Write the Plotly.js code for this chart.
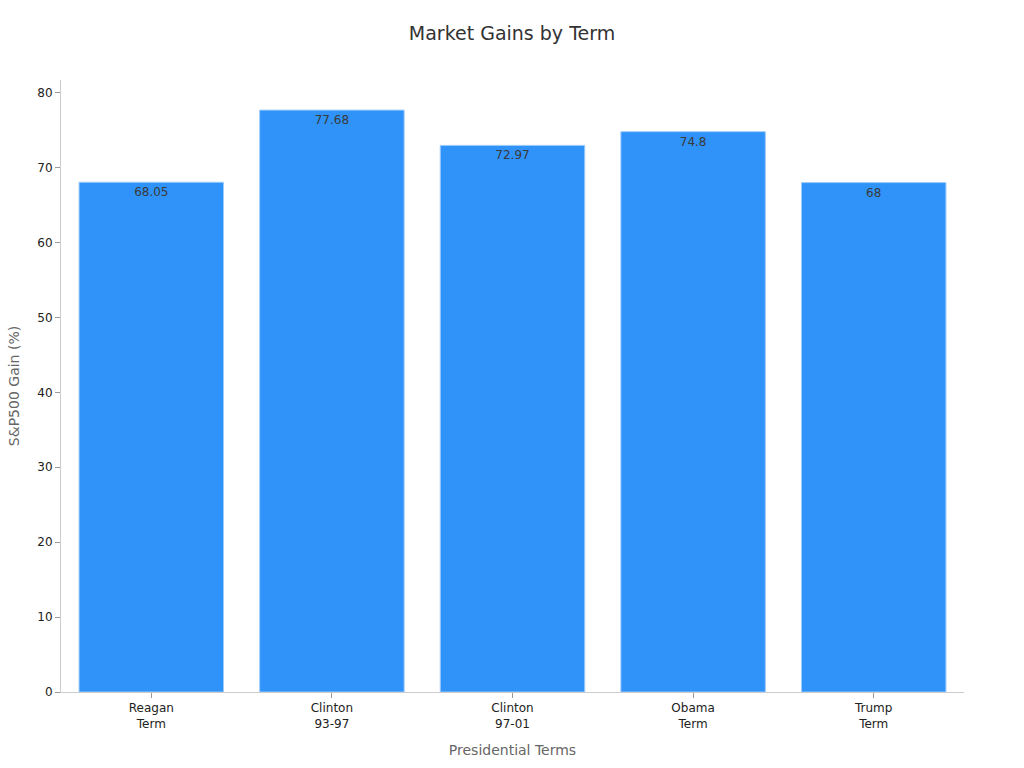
<!DOCTYPE html>
<html>
<head>
<meta charset="utf-8">
<script src="https://cdn.plot.ly/plotly-3.0.1.min.js"></script>
<style>html,body{margin:0;padding:0;background:#fff;}#chart{width:1024px;height:768px;}</style>
</head>
<body>
<div id="chart"></div>
<script>
const categories = ["Reagan<br>Term", "Clinton<br>93-97", "Clinton<br>97-01", "Obama<br>Term", "Trump<br>Term"];
const gains = [68.05, 77.68, 72.97, 74.8, 68];
const yTicks = [0, 10, 20, 30, 40, 50, 60, 70, 80];

const trace = {
  type: 'bar',
  x: categories,
  y: gains,
  text: gains.map(String),
  textposition: 'inside',
  insidetextanchor: 'end',
  textfont: {family: 'DejaVu Sans', size: 12, color: '#3a3a3a'},
  marker: {color: '#2F93F9', line: {color: '#9ccbfb', width: 1}},
  hoverinfo: 'x+y'
};

const layout = {
  width: 1024, height: 768,
  margin: {l: 61, r: 60, t: 80, b: 76},
  paper_bgcolor: '#fff', plot_bgcolor: '#fff',
  font: {family: 'DejaVu Sans', color: '#222', size: 12},
  title: {text: 'Market Gains by Term', x: 0.5, xanchor: 'center', y: 0.957, yanchor: 'middle',
          font: {family: 'DejaVu Sans', size: 19, color: '#333'}},
  bargap: 0.2,
  showlegend: false,
  xaxis: {
    title: {text: 'Presidential Terms', font: {size: 14, color: '#666'}, standoff: 15},
    showline: true, linecolor: '#ccc', linewidth: 1,
    ticks: 'outside', ticklen: 5, tickcolor: '#999',
    showgrid: false, zeroline: false,
    tickfont: {size: 12, color: '#222'}
  },
  yaxis: {
    title: {text: 'S&P500 Gain (%)', font: {size: 14, color: '#666'}, standoff: 14},
    range: [0, 81.7],
    tickvals: yTicks,
    showline: true, linecolor: '#ccc', linewidth: 1,
    ticks: 'outside', ticklen: 5, tickcolor: '#999',
    showgrid: false, zeroline: false,
    tickfont: {size: 12, color: '#222'}
  }
};

Plotly.newPlot('chart', [trace], layout, {displayModeBar: false, staticPlot: true});
</script>
</body>
</html>
